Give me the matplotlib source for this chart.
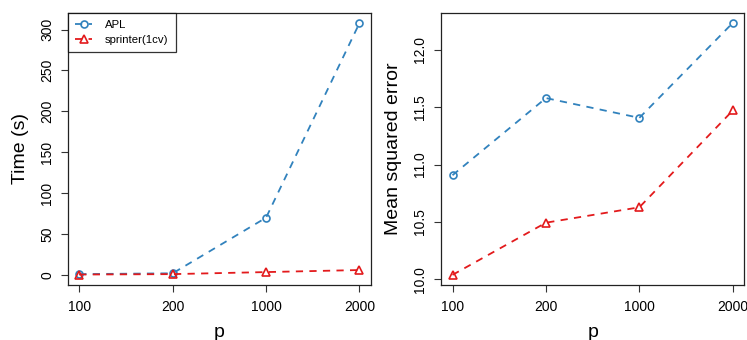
import matplotlib
matplotlib.use("Agg")
import matplotlib.pyplot as plt

plt.rcParams['font.family'] = ['Liberation Sans', 'DejaVu Sans']

p_labels = ["100", "200", "1000", "2000"]
time_apl = [1.0, 2.0, 70.0, 308.0]
time_sprinter = [0.5, 1.0, 3.5, 6.0]
mse_apl = [10.907, 11.578, 11.406, 12.232]
mse_sprinter = [10.04, 10.494, 10.628, 11.47]
series_names = ["APL", "sprinter(1cv)"]

blue = "#3182bd"
red = "#e31a1c"

W, H = 747, 340
fig = plt.figure(figsize=(W / 100, H / 100), dpi=100)

def make_ax(x0, x1, y0, y1):
    return fig.add_axes([x0 / W, 1 - y1 / H, (x1 - x0) / W, (y1 - y0) / H])

ax1 = make_ax(68, 370.7, 13, 285)
ax2 = make_ax(441.3, 744, 13, 285)

x = list(range(1, len(p_labels) + 1))

def style(ax, ylabel, yticks, yticklabels, ylim):
    ax.set_xlim(0.88, 4.12)
    ax.set_ylim(*ylim)
    ax.set_xticks(x)
    ax.set_xticklabels(p_labels, fontsize=10)
    ax.set_yticks(yticks)
    ax.set_yticklabels(yticklabels, fontsize=10, rotation=90, va='center')
    ax.tick_params(axis='both', direction='out', length=5, width=0.8, colors='#333333', labelcolor='black')
    ax.tick_params(axis='x', pad=6)
    ax.tick_params(axis='y', pad=5)
    for s in ax.spines.values():
        s.set_linewidth(0.9)
        s.set_color('#222222')
    ax.set_xlabel("p", fontsize=14, labelpad=7)
    ax.set_ylabel(ylabel, fontsize=14, labelpad=8)

dash = (0, (4, 3.5))

# Left: time
ax1.plot(x, time_apl, linestyle=dash, color=blue, lw=1.3, marker='o', ms=5,
         mfc='none', mec=blue, mew=1.2, label=series_names[0])
ax1.plot(x, time_sprinter, linestyle=dash, color=red, lw=1.3, marker='^', ms=6,
         mfc='none', mec=red, mew=1.2, label=series_names[1])
style(ax1, "Time (s)", [0, 50, 100, 150, 200, 250, 300],
      ["0", "50", "100", "150", "200", "250", "300"], (-12.3, 320.3))

leg = ax1.legend(loc='upper left', fontsize=8.2, frameon=True, fancybox=False,
                 borderaxespad=0, handlelength=1.5, handletextpad=1.1,
                 borderpad=0.65, labelspacing=0.4, edgecolor='black')
leg.get_frame().set_linewidth(0.9)

# Right: MSE
ax2.plot(x, mse_apl, linestyle=dash, color=blue, lw=1.3, marker='o', ms=5,
         mfc='none', mec=blue, mew=1.2)
ax2.plot(x, mse_sprinter, linestyle=dash, color=red, lw=1.3, marker='^', ms=6,
         mfc='none', mec=red, mew=1.2)
style(ax2, "Mean squared error", [10.0, 10.5, 11.0, 11.5, 12.0],
      ["10.0", "10.5", "11.0", "11.5", "12.0"], (9.952, 12.318))

fig.savefig("out.png", dpi=100)
